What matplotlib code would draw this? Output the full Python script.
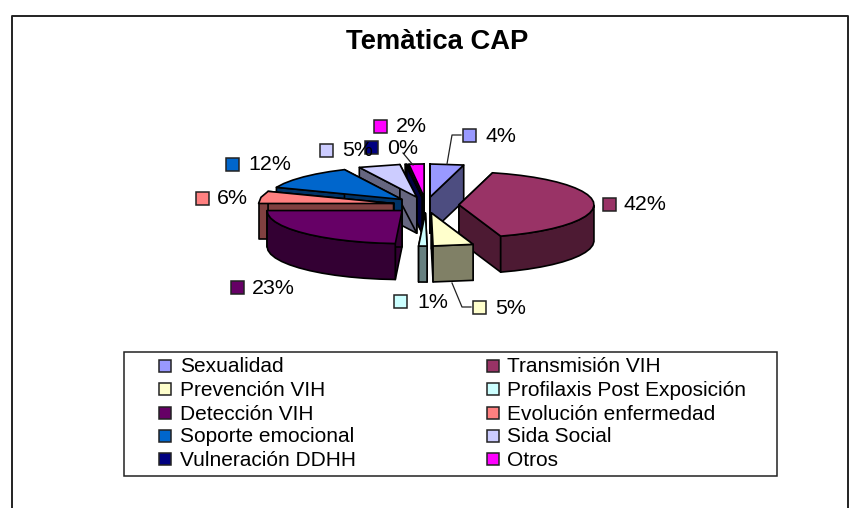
#!/usr/bin/env python3
"""Temàtica CAP: exploded pseudo-3D pie with swatch labels and a two-column legend."""

import matplotlib
matplotlib.use("Agg")
import matplotlib.pyplot as plt
import numpy as np
from matplotlib.patches import Polygon, Rectangle

plt.rcParams["font.family"] = ["Liberation Sans", "DejaVu Sans"]

CATEGORIES = [
    "Sexualidad", "Transmisión VIH", "Prevención VIH", "Profilaxis Post Exposición",
    "Detección VIH", "Evolución enfermedad", "Soporte emocional", "Sida Social",
    "Vulneración DDHH", "Otros",
]
# shares as measured from the slice angles; the printed labels are in PCT_LABELS
SHARES = [4, 41, 4.8, 1.0, 24.2, 6, 12, 5, 0.2, 1.8]
PCT_LABELS = ["4%", "42%", "5%", "1%", "23%", "6%", "12%", "5%", "0%", "2%"]
TOP_COLORS = [
    "#9999FF", "#993366", "#FFFFCC", "#CCFFFF", "#660066",
    "#FF8080", "#0066CC", "#CCCCFF", "#000080", "#FF00FF",
]
SIDE_COLORS = [
    "#4D4D80", "#4D1A33", "#808066", "#668080", "#330033",
    "#804040", "#003366", "#666680", "#000040", "#800080",
]
DRAW_ORDER = [0, 9, 8, 7, 6, 5, 1, 4, 2, 3]

# pie geometry, in pixels
CX, CY = 426, 205
RX, RY = 135, 33
DEPTH = 36
EXPLODE = 33
TILT = RY / RX

# swatch left, swatch centre y, text left for each slice label
LABEL_POS = [
    (463, 135, 485), (603, 204, 624), (473, 307, 495), (394, 301, 417), (231, 287, 252),
    (196, 198, 217), (226, 164, 248), (320, 150, 342), (365, 147, 387), (374, 126, 396),
]
LEADERS = [
    ([447, 452, 461], [164, 135, 135]),
    ([452, 462, 471], [283, 307, 307]),
    ([403, 413], [153, 165]),
]
LEGEND_ROWS = [366, 389, 413, 436, 459]
LEGEND_COLS = [(159, 180), (487, 507)]


def swatch(ax, x, yc, size, color, zorder=20):
    ax.add_patch(Rectangle((x, yc - size / 2), size, size, facecolor=color,
                           edgecolor="#222222", linewidth=1.1, zorder=zorder))


def draw_slice(ax, start, end, top, side, z):
    mid = (start + end) / 2
    ax0 = CX + EXPLODE * np.sin(mid)
    ay0 = CY - EXPLODE * TILT * np.cos(mid)
    n = max(2, int((end - start) / np.radians(6)))
    t = np.linspace(start, end, n)
    xs = ax0 + RX * np.sin(t)
    ys = ay0 - RY * np.cos(t)

    style = dict(edgecolor="black", linewidth=1.2, joinstyle="round")
    # cut faces first
    for i in (0, -1):
        quad = [(ax0, ay0), (xs[i], ys[i]), (xs[i], ys[i] + DEPTH), (ax0, ay0 + DEPTH)]
        ax.add_patch(Polygon(quad, facecolor=side, zorder=z, **style))
    # outer wall, only the part turned to the viewer
    front = np.cos(t) <= 0
    if front.sum() >= 2:
        fx, fy = xs[front], ys[front]
        wall = np.column_stack([np.r_[fx, fx[::-1]], np.r_[fy, fy[::-1] + DEPTH]])
        ax.add_patch(Polygon(wall, facecolor=side, zorder=z, **style))
    face = np.column_stack([np.r_[ax0, xs], np.r_[ay0, ys]])
    ax.add_patch(Polygon(face, facecolor=top, zorder=z, **style))


fig = plt.figure(figsize=(8.51, 5.08), dpi=100)
ax = fig.add_axes([0, 0, 1, 1])
ax.set_xlim(0, 851)
ax.set_ylim(508, 0)
ax.axis("off")

# chart frame, cut off at the bottom of the picture
ax.plot([12, 12, 848, 848], [508, 16, 16, 508], color="#222222", lw=1.4)

ax.text(437, 42, "Temàtica CAP", fontsize=19.7, fontweight="bold", ha="center", va="center")

edges = np.radians(np.r_[0, np.cumsum(SHARES)] * 3.6)
for z, i in enumerate(DRAW_ORDER, start=2):
    draw_slice(ax, edges[i], edges[i + 1], TOP_COLORS[i], SIDE_COLORS[i], z)

for xs, ys in LEADERS:
    ax.plot(xs, ys, color="#222222", lw=0.9, zorder=15)

for (sx, yc, tx), label, color in zip(LABEL_POS, PCT_LABELS, TOP_COLORS):
    swatch(ax, sx, yc, 13, color)
    ax.text(tx, yc + 1, label, fontsize=15.4, ha="left", va="center", zorder=21)

# legend box, filled row by row
ax.add_patch(Rectangle((124, 352), 653, 124, facecolor="white", edgecolor="#222222", linewidth=1.1))
for i, (name, color) in enumerate(zip(CATEGORIES, TOP_COLORS)):
    sx, tx = LEGEND_COLS[i % 2]
    yc = LEGEND_ROWS[i // 2]
    swatch(ax, sx, yc, 12, color)
    ax.text(tx, yc + 1, name, fontsize=15, ha="left", va="center", zorder=21)

fig.savefig("out.png", dpi=100)
plt.close(fig)
